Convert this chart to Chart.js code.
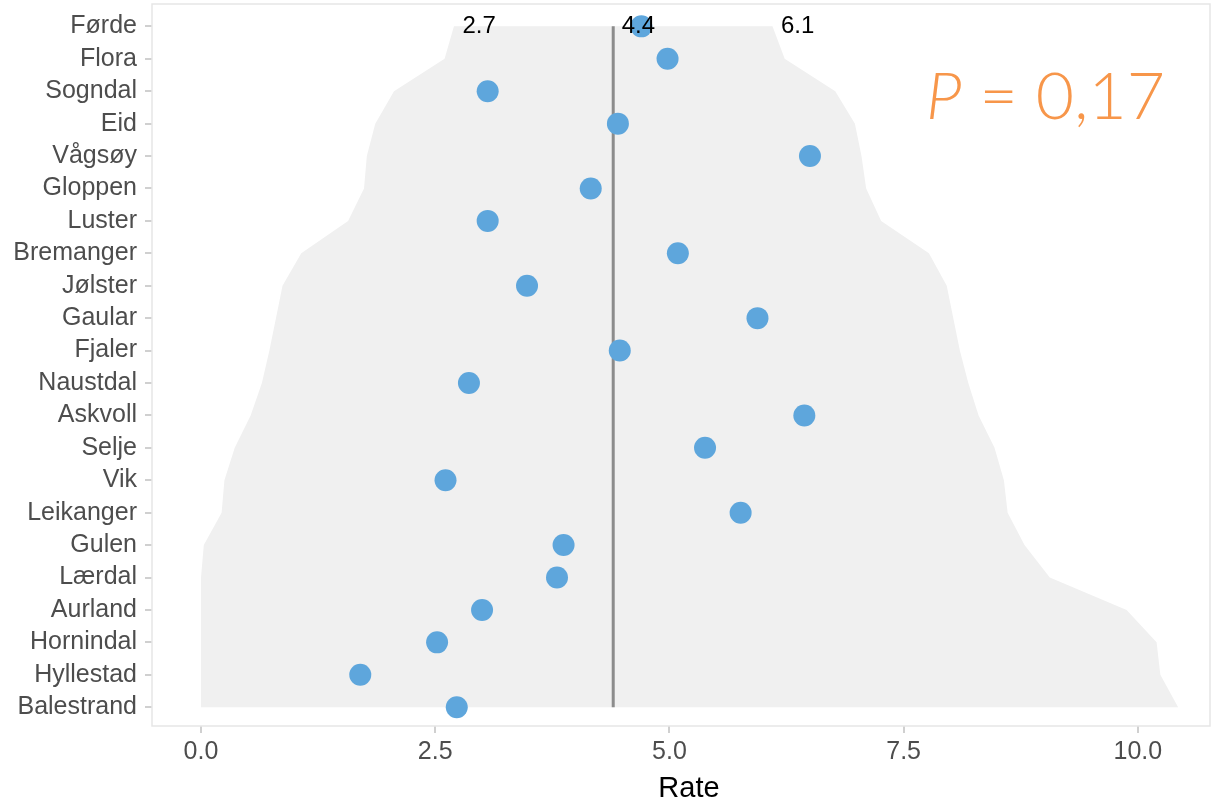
<!DOCTYPE html>
<html>
<head>
<meta charset="utf-8">
<script src="https://cdn.jsdelivr.net/npm/chart.js@4/dist/chart.umd.min.js"></script>
<style>
  html, body { margin: 0; padding: 0; background: #ffffff; }
  #wrap { width: 1212px; height: 801px; }
</style>
</head>
<body>
<div id="wrap"><canvas id="chart" width="1212" height="801"></canvas></div>
<script>
// Municipalities, top to bottom
const municipalities = ['Førde', 'Flora', 'Sogndal', 'Eid', 'Vågsøy', 'Gloppen', 'Luster', 'Bremanger',
  'Jølster', 'Gaular', 'Fjaler', 'Naustdal', 'Askvoll', 'Selje', 'Vik', 'Leikanger', 'Gulen',
  'Lærdal', 'Aurland', 'Hornindal', 'Hyllestad', 'Balestrand'];

// Observed rate per municipality
const rates = [4.70, 4.98, 3.06, 4.45, 6.50, 4.16, 3.06, 5.09, 3.48, 5.94, 4.47, 2.86,
  6.44, 5.38, 2.61, 5.76, 3.87, 3.80, 3.00, 2.52, 1.70, 2.73];

// Funnel control limits per municipality
const lowerLimit = [2.7, 2.60, 2.06, 1.86, 1.77, 1.74, 1.57, 1.07, 0.87, 0.80, 0.73, 0.65,
  0.53, 0.36, 0.25, 0.22, 0.03, 0.00, 0.00, 0.00, 0.00, 0.00];
const upperLimit = [6.1, 6.23, 6.77, 6.98, 7.05, 7.10, 7.26, 7.77, 7.96, 8.03, 8.10, 8.19,
  8.30, 8.47, 8.57, 8.61, 8.79, 9.06, 9.88, 10.20, 10.24, 10.43];

// Overall rate (reference line)
const overallRate = 4.4;

// Axis ticks
const xTicks = [0, 2.5, 5, 7.5, 10];

// Heterogeneity test result
const pValue = '0,17';

const TICK_GREY = '#4D4D4D';
const BLUE = '#5EA6DC';
const ORANGE = '#F7964A';

// Closed outline of the funnel band: down the lower limit, back up the upper limit
const bandPoints = lowerLimit.map((v, i) => ({ x: v, y: i }))
  .concat(upperLimit.map((v, i) => ({ x: v, y: i })).reverse());
bandPoints.push({ x: lowerLimit[0], y: 0 });

const refLine = [{ x: overallRate, y: 0 }, { x: overallRate, y: municipalities.length - 1 }];
const ratePoints = rates.map((v, i) => ({ x: v, y: i }));

const panelPlugin = {
  id: 'panelDecor',
  beforeDatasetsDraw(chart) {
    const { ctx, chartArea: a } = chart;
    ctx.save();
    ctx.strokeStyle = '#E6E6E6';
    ctx.lineWidth = 1.5;
    ctx.strokeRect(a.left, a.top, a.right - a.left, a.bottom - a.top);
    ctx.restore();
  },
  afterDatasetsDraw(chart) {
    const { ctx, scales } = chart;
    const xs = scales.x, ys = scales.y;
    const yTop = ys.getPixelForValue(0);
    ctx.save();
    // limit and reference values at the top row
    ctx.fillStyle = '#000000';
    ctx.font = '24px "Liberation Sans", Arial, sans-serif';
    ctx.textAlign = 'left';
    ctx.textBaseline = 'middle';
    [lowerLimit[0], overallRate, upperLimit[0]].forEach(v => {
      ctx.fillText(v.toFixed(1), xs.getPixelForValue(v) + 8.5, yTop);
    });
    // P-value annotation
    ctx.fillStyle = ORANGE;
    ctx.textBaseline = 'alphabetic';
    let x = 926;
    const yBase = 119;
    ctx.font = 'italic 300 66px Lato, "Open Sans", sans-serif';
    ctx.fillText('P', x, yBase);
    x += ctx.measureText('P').width;
    ctx.font = '300 66px Lato, "Open Sans", sans-serif';
    ctx.fillText(' = ' + pValue, x, yBase);
    // axis title
    ctx.fillStyle = '#000000';
    ctx.font = '29px "Liberation Sans", Arial, sans-serif';
    ctx.textAlign = 'center';
    ctx.fillText('Rate', 689, 797);
    ctx.restore();
  }
};

new Chart(document.getElementById('chart'), {
  type: 'scatter',
  data: {
    datasets: [
      {
        data: ratePoints,
        order: 0,
        pointRadius: 11,
        pointHoverRadius: 11,
        backgroundColor: BLUE,
        borderWidth: 0,
        showLine: false
      },
      {
        data: refLine,
        order: 1,
        showLine: true,
        borderColor: '#8C8C8C',
        borderWidth: 3,
        pointRadius: 0,
        fill: false
      },
      {
        data: bandPoints,
        order: 2,
        showLine: true,
        borderWidth: 0,
        borderColor: 'rgba(0,0,0,0)',
        backgroundColor: '#F0F0F0',
        pointRadius: 0,
        tension: 0,
        fill: 'shape'
      }
    ]
  },
  options: {
    responsive: false,
    animation: false,
    events: [],
    layout: { autoPadding: false, padding: { left: 0, right: 2, top: 4, bottom: 0 } },
    plugins: { legend: { display: false }, tooltip: { enabled: false } },
    scales: {
      x: {
        type: 'linear',
        min: -0.523,
        max: 10.77,
        afterBuildTicks: axis => { axis.ticks = xTicks.map(v => ({ value: v })); },
        afterFit: axis => {
          axis.height = 75;
          axis.paddingLeft = 0; axis.paddingRight = 0;
          axis.paddingTop = 0; axis.paddingBottom = 0;
        },
        border: { display: false },
        grid: { drawOnChartArea: false, drawTicks: true, tickLength: 7, color: '#D0D0D0', lineWidth: 2 },
        ticks: {
          autoSkip: false,
          maxRotation: 0,
          padding: 4,
          color: TICK_GREY,
          font: { family: '"Liberation Sans", Arial, sans-serif', size: 25 },
          callback: v => Number(v).toFixed(1)
        }
      },
      y: {
        type: 'linear',
        reverse: true,
        min: -0.69,
        max: 21.58,
        afterBuildTicks: axis => { axis.ticks = municipalities.map((_, i) => ({ value: i })); },
        afterFit: axis => {
          axis.width = 152;
          axis.paddingLeft = 0; axis.paddingRight = 0;
          axis.paddingTop = 0; axis.paddingBottom = 0;
        },
        border: { display: false },
        grid: { drawOnChartArea: false, drawTicks: true, tickLength: 7, color: '#D0D0D0', lineWidth: 2 },
        ticks: {
          autoSkip: false,
          padding: 8,
          color: TICK_GREY,
          font: { family: '"Liberation Sans", Arial, sans-serif', size: 25 },
          callback: v => municipalities[v]
        }
      }
    }
  },
  plugins: [panelPlugin]
});
</script>
</body>
</html>
